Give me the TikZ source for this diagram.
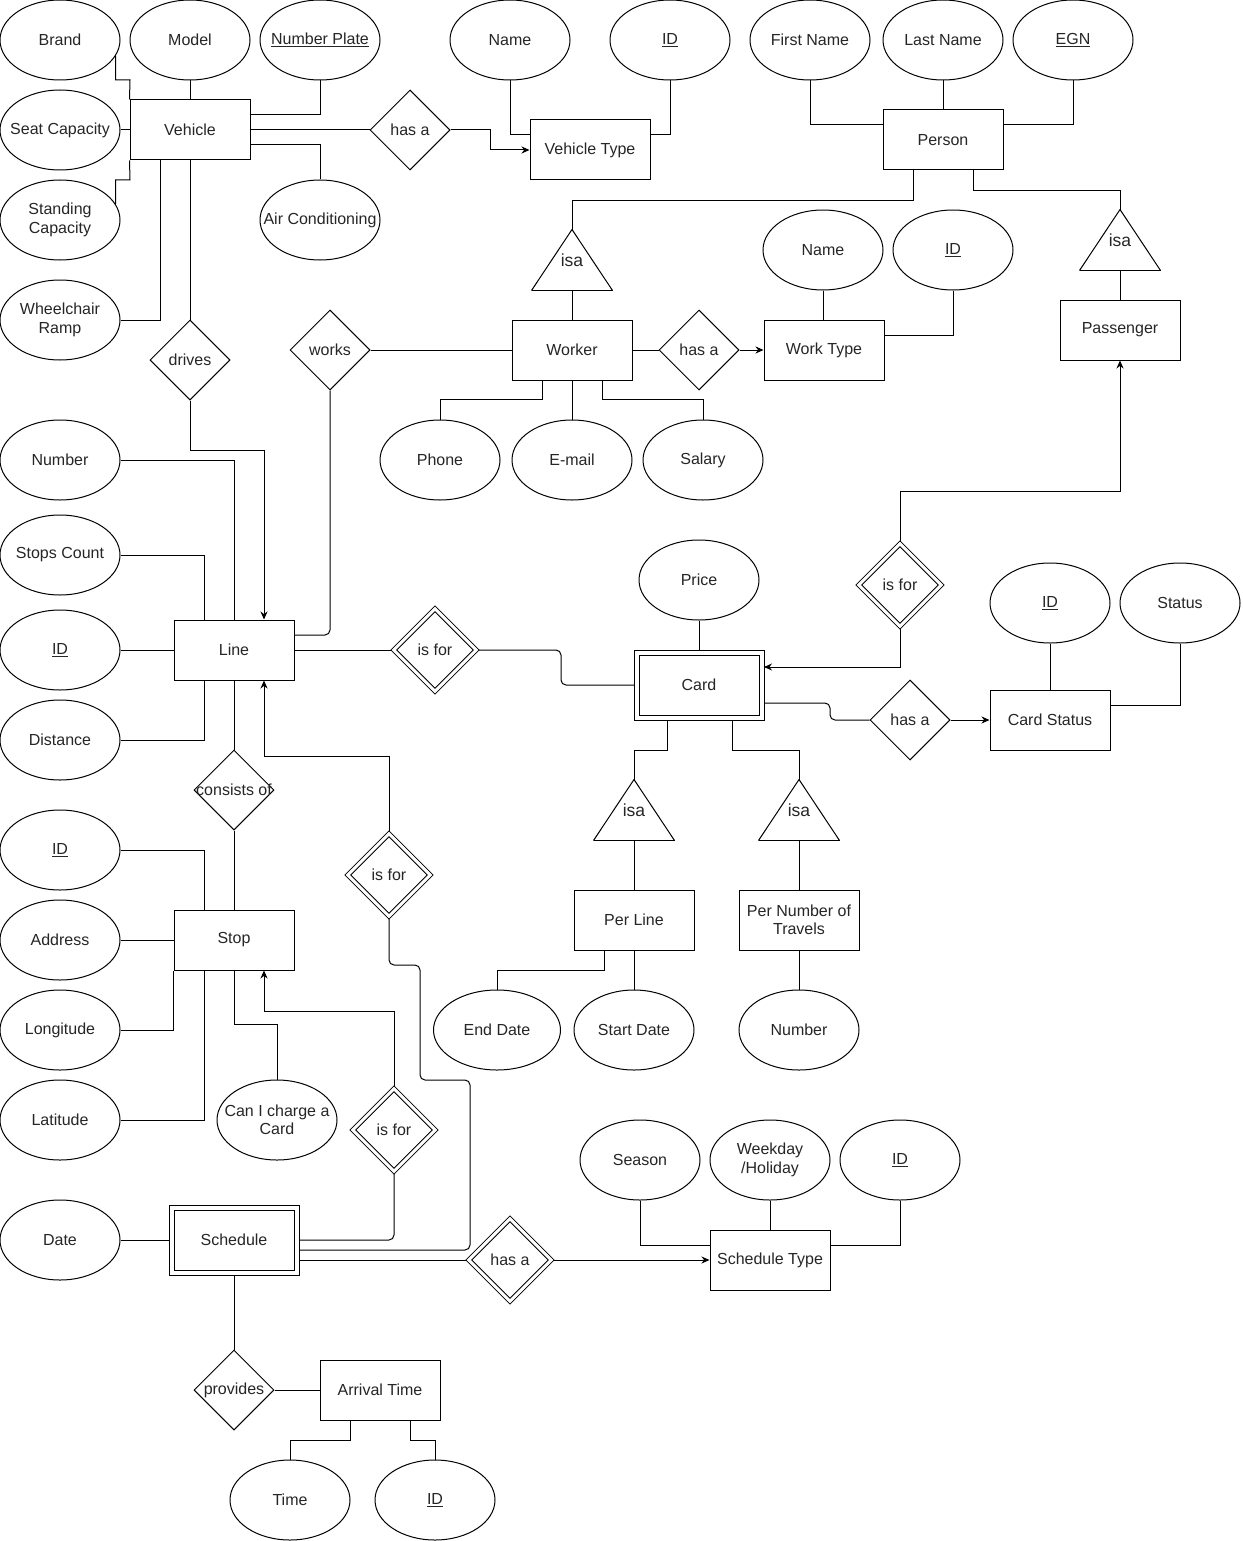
\documentclass[tikz,border=0pt]{standalone}
\usepackage{fontspec}
\setmainfont{Liberation Sans}
\usetikzlibrary{arrows.meta,shapes.geometric}

\begin{document}
\begin{tikzpicture}[x=1pt,y=1pt,>={Stealth[length=8pt,width=7pt]},line width=1pt,
  font=\fontsize{16}{18.5}\selectfont,text=black!85]
  \tikzstyle{ent}=[draw,fill=white,minimum width=120,minimum height=60,inner sep=2,align=center]
  \tikzstyle{weak}=[draw,fill=white,double,double distance=4,minimum width=125,minimum height=65,outer sep=2.5]
  \tikzstyle{attr}=[ellipse,draw,fill=white,minimum width=120,minimum height=80,inner xsep=-20,inner ysep=0,align=center]
  \tikzstyle{rel}=[diamond,draw,fill=white,minimum width=80,minimum height=80,inner sep=0]
  \tikzstyle{wrel}=[diamond,draw,fill=white,double,double distance=3,minimum width=84,minimum height=84,inner sep=0,outer sep=2]
  \tikzstyle{isa}=[minimum width=80,minimum height=60,inner sep=0,font=\fontsize{17.5}{20}\selectfont,
    append after command={(\tikzlastnode.north) edge (\tikzlastnode.south east) edge (\tikzlastnode.south west)
      (\tikzlastnode.south west) edge (\tikzlastnode.south east)}]
  \useasboundingbox (0,0) rectangle (1242,-1541);

  \node[attr] (brand) at (60,-40) {Brand};
  \node[attr] (model) at (190,-40) {Model};
  \node[attr] (plate) at (320,-40) {\underline{Number Plate}};
  \node[attr] (vtname) at (510,-40) {Name};
  \node[attr] (vtid) at (670,-40) {\underline{ID}};
  \node[attr] (fname) at (810,-40) {First Name};
  \node[attr] (lname) at (943,-40) {Last Name};
  \node[attr] (egn) at (1073,-40) {\underline{EGN}};
  \node[attr] (seat) at (60,-130) {Seat Capacity};
  \node[attr] (standing) at (60,-220) {Standing\\Capacity};
  \node[attr] (ramp) at (60,-320) {Wheelchair\\Ramp};
  \node[attr] (aircon) at (320,-220) {Air Conditioning};
  \node[ent] (vehicle) at (190,-130) {Vehicle};
  \node[rel] (hasvt) at (410,-130) {has a};
  \node[ent] (vtype) at (590,-150) {Vehicle Type};
  \node[ent] (person) at (943,-140) {Person};

  \node[isa] (isaw) at (572,-260) {isa};
  \node[ent] (worker) at (572,-350) {Worker};
  \node[rel] (hasw) at (699,-350) {has a};
  \node[ent] (worktype) at (824,-350) {Work Type};
  \node[attr] (wtname) at (823,-250) {Name};
  \node[attr] (wtid) at (953,-250) {\underline{ID}};
  \node[isa] (isap) at (1120,-240) {isa};
  \node[ent] (passenger) at (1120,-330) {Passenger};
  \node[rel] (works) at (330,-350) {works};
  \node[rel] (drives) at (190,-360) {drives};
  \node[attr] (phone) at (440,-460) {Phone};
  \node[attr] (email) at (572,-460) {E-mail};
  \node[attr] (salary) at (703,-460) {Salary};

  \node[attr] (lnum) at (60,-460) {Number};
  \node[attr] (stops) at (60,-555) {Stops Count};
  \node[attr] (lid) at (60,-650) {\underline{ID}};
  \node[attr] (dist) at (60,-740) {Distance};
  \node[ent] (line) at (234,-650) {Line};
  \node[wrel] (forcard) at (435,-650) {is for};
  \node[weak] (card) at (699,-685) {Card};
  \node[attr] (price) at (699,-580) {Price};
  \node[wrel] (forpass) at (900,-585) {is for};
  \node[rel] (hascs) at (910,-720) {has a};
  \node[ent] (cstatus) at (1050,-720) {Card Status};
  \node[attr] (csid) at (1050,-603) {\underline{ID}};
  \node[attr] (status) at (1180,-603) {Status};
  \node[isa] (isal) at (634,-810) {isa};
  \node[isa] (isan) at (799,-810) {isa};
  \node[ent] (perline) at (634,-920) {Per Line};
  \node[ent] (pernum) at (799,-920) {Per Number of\\Travels};
  \node[attr,minimum width=127] (enddate) at (497,-1030) {End Date};
  \node[attr] (startdate) at (634,-1030) {Start Date};
  \node[attr] (tnum) at (799,-1030) {Number};

  \node[rel] (consists) at (234,-790) {\makebox[0pt]{consists of}};
  \node[attr] (sid) at (60,-850) {\underline{ID}};
  \node[attr] (addr) at (60,-940) {Address};
  \node[attr] (lon) at (60,-1030) {Longitude};
  \node[attr] (lat) at (60,-1120) {Latitude};
  \node[ent] (stop) at (234,-940) {Stop};
  \node[attr] (charge) at (277,-1120) {Can I charge a\\Card};
  \node[wrel] (forline) at (389,-875) {is for};
  \node[wrel] (forstop) at (394,-1130) {is for};

  \node[attr] (date) at (60,-1240) {Date};
  \node[weak] (schedule) at (234,-1240) {Schedule};
  \node[rel] (provides) at (234,-1390) {provides};
  \node[ent] (arrival) at (380,-1390) {Arrival Time};
  \node[attr] (time) at (290,-1500) {Time};
  \node[attr] (atid) at (435,-1500) {\underline{ID}};
  \node[wrel] (hasst) at (510,-1260) {has a};
  \node[ent] (stype) at (770,-1260) {Schedule Type};
  \node[attr] (season) at (640,-1160) {Season};
  \node[attr] (weekday) at (770,-1160) {Weekday\\/Holiday};
  \node[attr] (stid) at (900,-1160) {\underline{ID}};

  \draw (brand.-16) |- (130,-80) -- (vehicle.north west);
  \draw (model) -- (vehicle);
  \draw (plate.south) |- ([yshift=15]vehicle.east);
  \draw (seat) -- (vehicle);
  \draw (standing.16) |- (130,-180) -- (vehicle.south west);
  \draw (ramp.east) -| ([xshift=-30]vehicle.south);
  \draw ([yshift=-15]vehicle.east) -| (aircon.north);
  \draw (vehicle) -- (hasvt);
  \draw[->] (hasvt.east) -- ++(40,0) |- (vtype.west);
  \draw (vehicle) -- (drives);
  \draw (vtname.south) |- ([yshift=15]vtype.west);
  \draw (vtid.south) |- ([yshift=15]vtype.east);
  \draw (fname.south) |- ([yshift=15]person.west);
  \draw (lname) -- (person);
  \draw (egn.south) |- ([yshift=15]person.east);
  \draw ([xshift=-30]person.south) -- ++(0,-30) -| (isaw.north);
  \draw ([xshift=30]person.south) -- ++(0,-20) -| (isap.north);
  \draw (isaw.south) -- (worker.north);
  \draw (isap.south) -- (passenger.north);

  \draw (works) -- (worker);
  \draw (worker) -- (hasw);
  \draw[->] (hasw) -- (worktype);
  \draw (phone.north) -- ++(0,20) -| ([xshift=-30]worker.south);
  \draw (email) -- (worker);
  \draw (salary.north) -- ++(0,20) -| ([xshift=30]worker.south);
  \draw (wtname.south) -- (wtname.south |- worktype.north);
  \draw (wtid.south) |- ([yshift=15]worktype.east);
  \draw[->] (forpass.north) -- ++(0,50) -| (passenger.south);
  \draw[->] (forpass.south) |- ([yshift=18]card.east);

  \draw[->] (drives.south) -- ++(0,-50) -| ([xshift=30]line.north);
  \draw[rounded corners=5] ([yshift=15]line.east) -| (works.south);
  \draw (lnum.east) -| (line.north);
  \draw (stops.east) -| ([xshift=-30]line.north);
  \draw (lid) -- (line);
  \draw (dist.east) -| ([xshift=-30]line.south);
  \draw (line) -- (consists);
  \draw (line) -- (forcard);
  \draw[rounded corners=5] (forcard.east) -- ++(82,0) |- (card.west);
  \draw[->] (forline.north) -- ++(0,75) -| ([xshift=30]line.south);
  \draw (price) -- (card);
  \draw[rounded corners=5] ([yshift=-18]card.east) -- ++(66,0) |- (hascs.west);
  \draw[->] (hascs) -- (cstatus);
  \draw (csid) -- (cstatus);
  \draw (status.south) |- ([yshift=15]cstatus.east);
  \draw ([xshift=-32]card.south) -- ++(0,-30) -| (isal.north);
  \draw ([xshift=33]card.south) -- ++(0,-30) -| (isan.north);
  \draw (isal.south) -- (perline);
  \draw (isan.south) -- (pernum);
  \draw ([xshift=-30]perline.south) -- ++(0,-20) -| (enddate.north);
  \draw (perline) -- (startdate);
  \draw (pernum) -- (tnum);

  \draw (consists) -- (stop);
  \draw (sid.east) -| ([xshift=-30]stop.north);
  \draw (addr) -- (stop);
  \draw (lon.east) -| (stop.south west);
  \draw (lat.east) -| ([xshift=-30]stop.south);
  \draw (charge.north) -- ++(0,55) -| (stop.south);
  \draw[->] (forstop.north) -- ++(0,75) -| ([xshift=30]stop.south);
  \draw[rounded corners=5] (forstop.south) |- (schedule.east);
  \draw[rounded corners=5] (forline.south) |- (420,-965) |- (470,-1080) |- ([yshift=-10]schedule.east);
  \draw ([yshift=-20]schedule.east) -- (hasst.west);
  \draw[->] (hasst) -- (stype);
  \draw (date) -- (schedule);
  \draw (schedule) -- (provides);
  \draw (provides) -- (arrival);
  \draw (season.south) |- ([yshift=15]stype.west);
  \draw (weekday) -- (stype);
  \draw (stid.south) |- ([yshift=15]stype.east);
  \draw ([xshift=-30]arrival.south) -- ++(0,-20) -| (time.north);
  \draw ([xshift=30]arrival.south) -- ++(0,-20) -| (atid.north);
\end{tikzpicture}
\end{document}
